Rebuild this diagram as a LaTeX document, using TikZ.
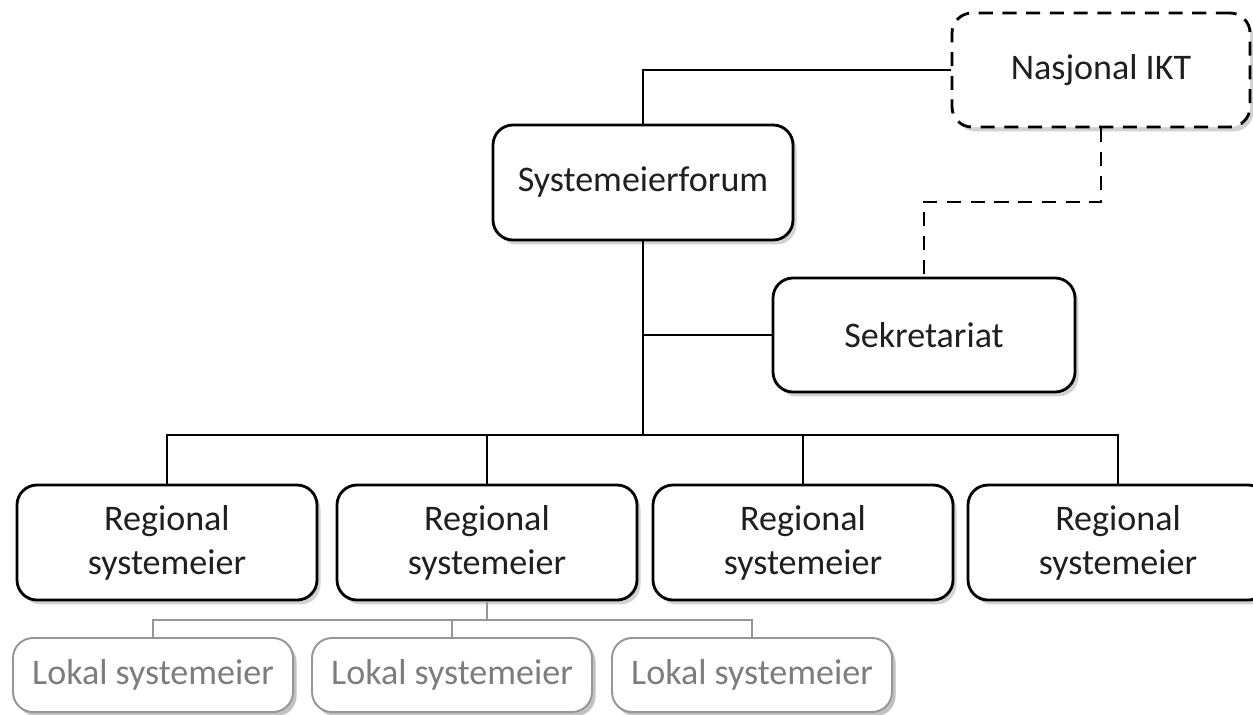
\documentclass[tikz,border=0pt]{standalone}
\usepackage{fontspec}
\setmainfont{Carlito}
\usetikzlibrary{shadows}
\definecolor{lokalgray}{RGB}{150,150,150}
\definecolor{lokaltext}{RGB}{125,125,125}
\begin{document}
\begin{tikzpicture}
                \tikzstyle{every node}+=[font=\fontsize{20.5}{25}\selectfont, align=center]
                \tikzstyle{orgbox}=[draw=black, line width=1.6pt, rounded corners=0.4cm, fill=white,
                                    minimum width=6cm, minimum height=2.3cm, text=black!88,
                                    drop shadow={shadow xshift=2pt, shadow yshift=-2.5pt, opacity=0.35}]
                \tikzstyle{lokalbox}=[orgbox, draw=lokalgray, line width=1.1pt, text=lokaltext,
                                    minimum width=5.6cm, minimum height=1.48cm,
                                    drop shadow={shadow xshift=2pt, shadow yshift=-2pt, opacity=0.2}]
                \tikzstyle{link}=[black, line width=1.1pt]
                \clip (0,0) rectangle (25.06,-14.28);
                \fill [white] (0,0) rectangle (25.06,-14.28);
                % top level
                \node [orgbox, dash pattern=on 8pt off 5.5pt, minimum width=5.96cm, minimum height=2.28cm] (nasjonal) at (22.02,-1.4) {Nasjonal IKT};
                \node [orgbox] (forum) at (12.86,-3.65) {Systemeierforum};
                \node [orgbox, minimum width=6.04cm, minimum height=2.28cm] (sekr) at (18.48,-6.7) {Sekretariat};
                % regional level
                \node [orgbox] (reg1) at (3.34,-10.85) {Regional\\systemeier};
                \node [orgbox] (reg2) at (9.74,-10.85) {Regional\\systemeier};
                \node [orgbox] (reg3) at (16.06,-10.85) {Regional\\systemeier};
                \node [orgbox] (reg4) at (22.36,-10.85) {Regional\\systemeier};
                % local level
                \node [lokalbox] (lok1) at (3.06,-13.5) {Lokal systemeier};
                \node [lokalbox] (lok2) at (9.04,-13.5) {Lokal systemeier};
                \node [lokalbox] (lok3) at (15.04,-13.5) {Lokal systemeier};
                \coordinate (bus) at (12.86,-8.7);
                \coordinate (dashknee) at (20,-4.04);
                \coordinate (lokalbus) at (9.74,-12.4);
                % connectors
                \draw [link] (nasjonal.west) -| (forum.north);
                \draw [link] (forum.south) -- (bus);
                \draw [link] (sekr.west) -- (sekr.west -| forum.south);
                \draw [link] (reg1.north) |- (bus) -| (reg4.north);
                \draw [link] (reg2.north) -- (reg2.north |- bus);
                \draw [link] (reg3.north) -- (reg3.north |- bus);
                \draw [link, line width=1.5pt, dash pattern=on 8pt off 5.5pt] (nasjonal.south) |- (dashknee) -| (sekr.north);
                \draw [link, lokalgray] (reg2.south) -- (lokalbus);
                \draw [link, lokalgray] (lok1.north) |- (lokalbus) -| (lok3.north);
                \draw [link, lokalgray] (lok2.north) -- (lok2.north |- lokalbus);
              \end{tikzpicture}
\end{document}
